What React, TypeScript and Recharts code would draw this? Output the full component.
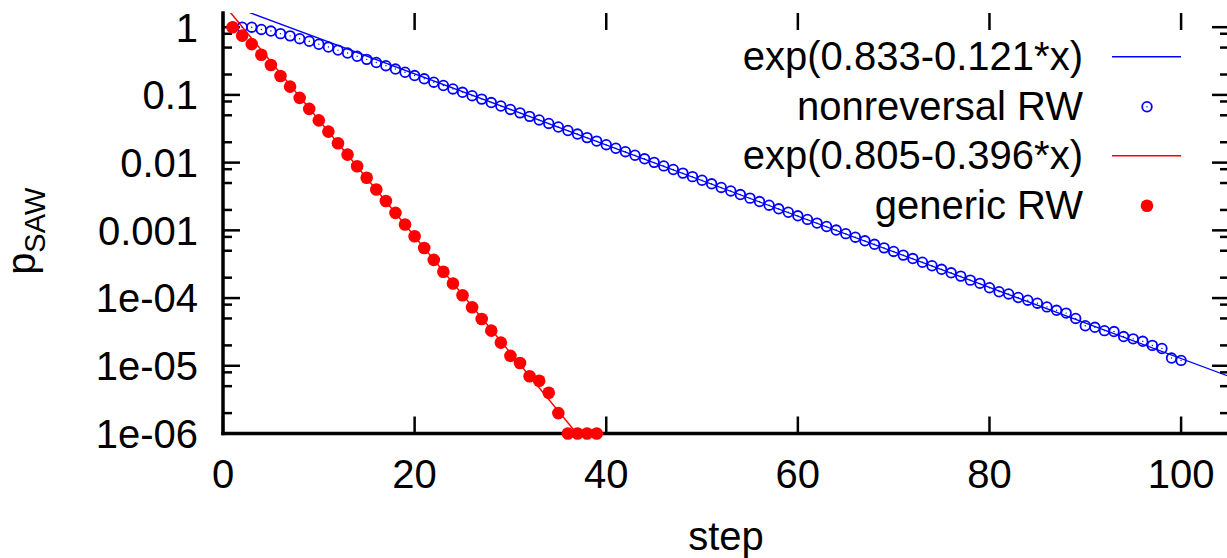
import { ComposedChart, Line, Scatter, XAxis, YAxis, Legend } from "recharts";

const FONT = "'Liberation Sans', Arial, Helvetica, sans-serif";
const BLUE = "#0000ff";
const RED = "#ff0000";

// #region Data
// nonreversal RW, steps 1..100
const nonrevP = [
  1, 1, 1, 0.926, 0.877, 0.803, 0.745, 0.676, 0.62, 0.56,
  0.509, 0.459, 0.415, 0.372, 0.335, 0.301, 0.27, 0.241, 0.216, 0.193,
  0.173, 0.154, 0.1376, 0.1225, 0.1093, 0.0973, 0.0867, 0.0771, 0.0686, 0.061,
  0.0543, 0.0482, 0.0427, 0.0379, 0.0336, 0.0298, 0.0264, 0.0234, 0.0208, 0.0184,
  0.0163, 0.0145, 0.01285, 0.01138, 0.01009, 0.00894, 0.00792, 0.007, 0.00621, 0.00549,
  0.00487, 0.0043, 0.00382, 0.00338, 0.00299, 0.00266, 0.00235, 0.00208, 0.00185, 0.00164,
  0.00145, 0.00128, 0.00114, 0.00101, 0.000893, 0.000792, 0.000701, 0.000622, 0.000551, 0.000488,
  0.000431, 0.000383, 0.000338, 0.0003, 0.000266, 0.000236, 0.000211, 0.000184, 0.000165, 0.000142,
  0.000124, 0.000115, 0.000102, 9.3e-5, 8.4e-5, 7.4e-5, 6.6e-5, 6.0e-5, 5.0e-5, 3.9e-5,
  3.7e-5, 3.3e-5, 3.2e-5, 2.7e-5, 2.5e-5, 2.3e-5, 2.0e-5, 1.8e-5, 1.3e-5, 1.2e-5,
];

// generic RW, steps 1..39
const genericP = [
  1, 0.75, 0.5625, 0.391, 0.277, 0.19, 0.1326, 0.0903, 0.0621, 0.0421,
  0.0287, 0.01937, 0.01314, 0.00885, 0.00598, 0.00402, 0.00271, 0.00181, 0.00122, 0.000817,
  0.000548, 0.000366, 0.000245, 0.000164, 0.00011, 7.3e-5, 4.9e-5, 3.3e-5, 2.2e-5, 1.4e-5,
  1.1e-5, 7e-6, 6e-6, 4e-6, 2e-6, 1e-6, 1e-6, 1e-6, 1e-6,
];

// fitted exponentials (straight on a log axis, end points only)
const blueFitSteps = [0, 105];
const blueFitP = [2.3, 6.98e-6];
const redFitSteps = [0, 40];
const redFitP = [2.237, 2.96e-7];

const xTicks = [0, 20, 40, 60, 80, 100];
const yMajorTicks = [1e-6, 1e-5, 1e-4, 1e-3, 1e-2, 1e-1, 1];
const yTickLabels = ["1e-06", "1e-05", "1e-04", "0.001", "0.01", "0.1", "1"];
const yMinorTicks = [
  2e-6, 5e-6, 8e-6, 2e-5, 5e-5, 8e-5, 2e-4, 5e-4, 8e-4,
  2e-3, 5e-3, 8e-3, 2e-2, 5e-2, 8e-2, 0.2, 0.5, 0.8,
];
const legendNames = [
  "exp(0.833-0.121*x)",
  "nonreversal RW",
  "exp(0.805-0.396*x)",
  "generic RW",
];
// #endregion

const X_DOMAIN = [0, 105];
const Y_DOMAIN = [1e-6, 1.62];
const PLOT_W = 1006;
const PLOT_H = 420.5;

const nonrevData = nonrevP.map((p, i) => ({ step: i + 1, p }));
const genericData = genericP.map((p, i) => ({ step: i + 1, p }));
const blueFit = blueFitSteps.map((step, i) => ({ step, p: blueFitP[i] }));
const redFit = redFitSteps.map((step, i) => ({ step, p: redFitP[i] }));

// tick anchors on the right and top edges; each draws the stub on both opposite sides
const yMajorAnchors = yMajorTicks.map((p) => ({ step: X_DOMAIN[1], p }));
const yMinorAnchors = yMinorTicks.map((p) => ({ step: X_DOMAIN[1], p }));
const xAnchors = xTicks.map((step) => ({ step, p: Y_DOMAIN[1] }));

const TICK_MAJOR = 17;
const TICK_MINOR = 9;
const FRAME = { stroke: "#000", strokeWidth: 3.5, strokeLinecap: "square" as const };

const yStub = (len: number) => (props: any) => {
  const { cx, cy } = props;
  const left = cx - PLOT_W;
  return (
    <g>
      <line x1={cx} x2={cx - len} y1={cy} y2={cy} stroke="#000" strokeWidth={2.5} />
      <line x1={left} x2={left + len} y1={cy} y2={cy} stroke="#000" strokeWidth={2.5} />
    </g>
  );
};

const xStub = (props: any) => {
  const { cx, cy } = props;
  const bottom = cy + PLOT_H;
  return (
    <g>
      <line x1={cx} x2={cx} y1={cy} y2={cy + TICK_MAJOR} stroke="#000" strokeWidth={2.5} />
      <line x1={cx} x2={cx} y1={bottom - TICK_MAJOR} y2={bottom} stroke="#000" strokeWidth={2.5} />
    </g>
  );
};

const LeftLabel = (props: any) => {
  const { x, y, payload } = props;
  const idx = yMajorTicks.indexOf(payload.value);
  if (idx < 0) return <g />;
  return (
    <text x={x} y={y} dy="0.36em" textAnchor="end" fontSize={40} fontFamily={FONT} fill="#000">
      {yTickLabels[idx]}
    </text>
  );
};

const BottomLabel = (props: any) => {
  const { x, y, payload } = props;
  return (
    <text x={x} y={y} dy="1.37em" textAnchor="middle" fontSize={40} fontFamily={FONT} fill="#000">
      {payload.value}
    </text>
  );
};

const YLabel = (props: any) => {
  const { viewBox } = props;
  const cx = viewBox.x + 35;
  const cy = viewBox.y + viewBox.height / 2 + 8;
  return (
    <text
      x={cx}
      y={cy}
      transform={`rotate(-90, ${cx}, ${cy})`}
      textAnchor="middle"
      fontFamily={FONT}
      fontSize={40}
      fill="#000"
    >
      <tspan>p</tspan>
      <tspan fontSize={29} dy={10}>SAW</tspan>
    </text>
  );
};

const OpenCircle = (props: any) => (
  <g>
    <circle cx={props.cx} cy={props.cy} r={4.8} fill="none" stroke={BLUE} strokeWidth={1.8} />
    <circle cx={props.cx} cy={props.cy} r={0.7} fill={BLUE} />
  </g>
);

const FilledDot = (props: any) => <circle cx={props.cx} cy={props.cy} r={6.3} fill={RED} />;

const ROW = 49.5;
const legendKinds = ["line", "open", "line", "dot"];
const legendColors = [BLUE, BLUE, RED, RED];

const renderLegend = () => (
  <div style={{ fontFamily: FONT, fontSize: 40, color: "#000" }}>
    {legendNames.map((name, i) => (
      <div key={name} style={{ display: "flex", alignItems: "center", height: ROW, lineHeight: `${ROW}px` }}>
        <span style={{ width: 383, textAlign: "right", whiteSpace: "nowrap" }}>{name}</span>
        <svg width={128} height={ROW} style={{ display: "block" }}>
          {legendKinds[i] === "line" && (
            <line x1={29} x2={98} y1={ROW / 2} y2={ROW / 2} stroke={legendColors[i]} strokeWidth={1.4} />
          )}
          {legendKinds[i] === "open" && (
            <g>
              <circle cx={64} cy={ROW / 2} r={4.8} fill="none" stroke={BLUE} strokeWidth={1.8} />
              <circle cx={64} cy={ROW / 2} r={0.7} fill={BLUE} />
            </g>
          )}
          {legendKinds[i] === "dot" && <circle cx={64} cy={ROW / 2} r={6.3} fill={RED} />}
        </svg>
      </div>
    ))}
  </div>
);

export default function App() {
  return (
    <div style={{ position: "absolute", left: 0, top: 0, width: 1227, height: 558, overflow: "hidden", background: "#fff" }}>
      <ComposedChart width={1240} height={558} margin={{ top: 13, right: 11, bottom: 64.5, left: 0 }}>
        <XAxis
          dataKey="step"
          type="number"
          domain={X_DOMAIN}
          ticks={xTicks}
          interval={0}
          tickSize={0}
          tickMargin={0}
          tickLine={false}
          axisLine={FRAME}
          tick={BottomLabel}
          height={60}
          label={{ value: "step", position: "bottom", offset: 28, fontSize: 40, fill: "#000", fontFamily: FONT }}
        />
        <XAxis
          xAxisId="top"
          orientation="top"
          mirror
          type="number"
          domain={X_DOMAIN}
          allowDataOverflow
          ticks={xTicks}
          tick={false}
          tickLine={false}
          axisLine={FRAME}
          height={0}
        />
        <YAxis
          type="number"
          scale="log"
          domain={Y_DOMAIN}
          ticks={yMajorTicks}
          interval={0}
          tickSize={0}
          tickMargin={25}
          tickLine={false}
          axisLine={FRAME}
          tick={LeftLabel}
          width={223}
          label={<YLabel />}
        />
        <YAxis yAxisId="fit" type="number" scale="log" domain={Y_DOMAIN} allowDataOverflow hide />

        {/* inward tick marks on all four sides */}
        <Scatter data={yMajorAnchors} dataKey="p" shape={yStub(TICK_MAJOR)} legendType="none" isAnimationActive={false} />
        <Scatter data={yMinorAnchors} dataKey="p" shape={yStub(TICK_MINOR)} legendType="none" isAnimationActive={false} />
        <Scatter data={xAnchors} dataKey="p" shape={xStub} legendType="none" isAnimationActive={false} />

        <Line
          yAxisId="fit"
          data={blueFit}
          dataKey="p"
          name={legendNames[0]}
          stroke={BLUE}
          strokeWidth={1.3}
          dot={false}
          activeDot={false}
          legendType="line"
          isAnimationActive={false}
        />
        <Scatter
          data={nonrevData}
          dataKey="p"
          name={legendNames[1]}
          shape={OpenCircle}
          fill={BLUE}
          legendType="circle"
          isAnimationActive={false}
        />
        <Line
          yAxisId="fit"
          data={redFit}
          dataKey="p"
          name={legendNames[2]}
          stroke={RED}
          strokeWidth={1.5}
          dot={false}
          activeDot={false}
          legendType="line"
          isAnimationActive={false}
        />
        <Scatter
          data={genericData}
          dataKey="p"
          name={legendNames[3]}
          shape={FilledDot}
          fill={RED}
          legendType="circle"
          isAnimationActive={false}
        />
        <Legend
          layout="vertical"
          align="center"
          verticalAlign="middle"
          wrapperStyle={{ top: 32.25, left: 700, width: 511 }}
          content={renderLegend}
        />
      </ComposedChart>
    </div>
  );
}
